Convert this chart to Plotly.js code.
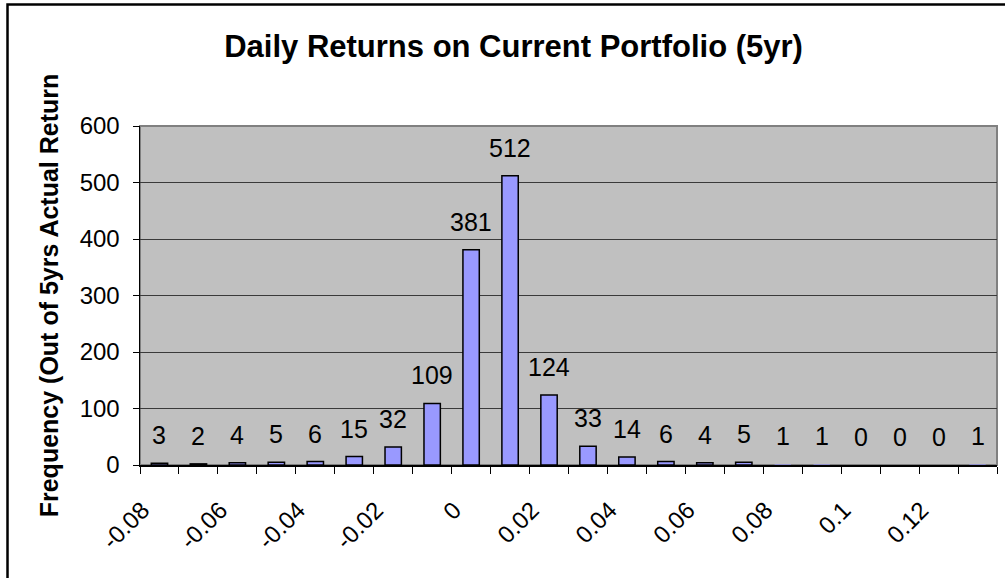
<!DOCTYPE html>
<html>
<head>
<meta charset="utf-8">
<script src="https://cdn.plot.ly/plotly-3.0.1.min.js"></script>
<style>
  html, body { margin: 0; padding: 0; background: #ffffff; }
  #chart { width: 1005px; height: 578px; }
</style>
</head>
<body>
<div id="chart"></div>
<script>
// Histogram bins (daily return, step 0.01) and frequencies
const bins = ['-0.08','-0.07','-0.06','-0.05','-0.04','-0.03','-0.02','-0.01','0','0.01','0.02','0.03','0.04','0.05','0.06','0.07','0.08','0.09','0.1','0.11','0.12','0.13'];
const counts = [3, 2, 4, 5, 6, 15, 32, 109, 381, 512, 124, 33, 14, 6, 4, 5, 1, 1, 0, 0, 0, 1];
// Axis labels shown (every other bin)
const shownTickLabels = ['-0.08','-0.06','-0.04','-0.02','0','0.02','0.04','0.06','0.08','0.1','0.12'];
const yTicks = [0, 100, 200, 300, 400, 500, 600];

const FONT = 'Liberation Sans, Arial, sans-serif';

const trace = {
  type: 'bar',
  x: bins,
  y: counts,
  width: 0.42,
  marker: {
    color: '#9999FF',
    line: { color: '#000000', width: counts.map(c => (c > 1 ? 1.5 : 0)) }
  },
  hoverinfo: 'x+y'
};

const annotations = counts.map((c, i) => ({
  x: i, y: c, xref: 'x', yref: 'y',
  text: String(c), showarrow: false,
  yanchor: 'middle', yshift: 28,
  font: { family: FONT, size: 25, color: '#000000' }
}));

const layout = {
  width: 1005, height: 578,
  margin: { l: 140, r: 8, t: 126, b: 113 },
  paper_bgcolor: '#ffffff',
  plot_bgcolor: '#C0C0C0',
  showlegend: false,
  bargap: 0,
  title: {
    text: '<b>Daily Returns on Current Portfolio (5yr)</b>',
    font: { family: FONT, size: 31, color: '#000000' },
    x: 0.511, xanchor: 'center', y: 0.92, yanchor: 'middle', xref: 'container', yref: 'container'
  },
  xaxis: {
    type: 'category',
    categoryorder: 'array', categoryarray: bins,
    tickmode: 'array',
    tickvals: bins,
    ticktext: bins.map(b => shownTickLabels.includes(b) ? b : ''),
    tickson: 'boundaries',
    ticks: 'outside', ticklen: 7, tickcolor: '#000000', tickwidth: 1,
    tickangle: -45,
    ticklabelstandoff: 20,
    ticklabelshift: -17,
    tickfont: { family: FONT, size: 24, color: '#000000' },
    showline: true, linecolor: '#000000', linewidth: 1.5,
    showgrid: false, zeroline: false,
    range: [-0.5, bins.length - 0.5],
    automargin: false
  },
  yaxis: {
    range: [0, 600],
    tickmode: 'array', tickvals: yTicks,
    ticks: 'outside', ticklen: 6, tickcolor: '#000000', tickwidth: 1,
    ticklabelstandoff: 8,
    tickfont: { family: FONT, size: 24, color: '#000000' },
    showline: true, linecolor: '#000000', linewidth: 1.5,
    showgrid: true, gridcolor: '#3a3a3a', gridwidth: 1,
    zeroline: false,
    automargin: false,
    title: {
      text: '<b>Frequency (Out of 5yrs Actual Return</b>',
      font: { family: FONT, size: 25, color: '#000000' },
      standoff: 14
    }
  },
  annotations: annotations,
  shapes: [
    { type: 'rect', xref: 'paper', yref: 'paper', x0: 0, x1: 1, y0: 0, y1: 1,
      line: { color: '#808080', width: 2 }, layer: 'below' },
    { type: 'rect', xref: 'paper', yref: 'paper', x0: -0.1546, x1: 1.2, y0: -0.6, y1: 1.3584,
      line: { color: '#000000', width: 2.5 }, fillcolor: 'rgba(0,0,0,0)', layer: 'above' }
  ]
};

Plotly.newPlot('chart', [trace], layout, { displayModeBar: false, staticPlot: true });
</script>
</body>
</html>
